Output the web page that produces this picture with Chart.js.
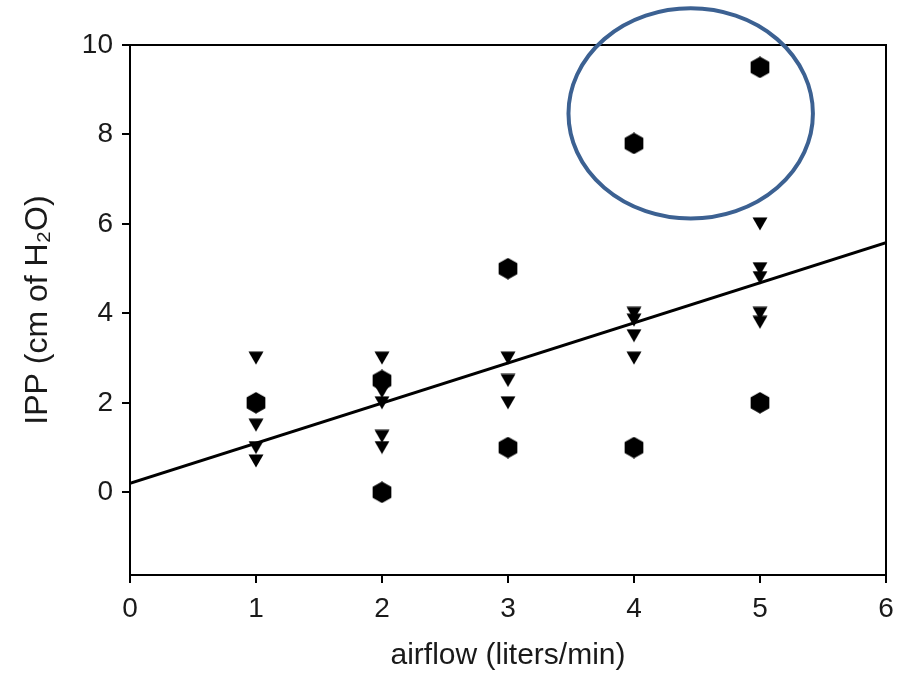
<!DOCTYPE html>
<html><head><meta charset="utf-8">
<script src="https://cdn.jsdelivr.net/npm/chart.js@4"></script>
<style>html,body{margin:0;padding:0;background:#fff}</style>
</head><body>
<canvas id="c" width="905" height="674"></canvas>
<script>
// ---- data ----
const hexX = [1, 2, 2, 3, 3, 4, 4, 5, 5];
const hexY = [2, 2.5, 0, 5, 1, 7.8, 1, 9.5, 2];
const triX = [1, 1, 1, 1, 2, 2, 2, 2, 2, 3, 3, 3, 4, 4, 4, 4, 5, 5, 5, 5, 5];
const triY = [3, 1.5, 1.0, 0.7, 3, 2.25, 2.0, 1.25, 1.0, 3, 2.5, 2.0, 4.0, 3.85, 3.5, 3.0, 6, 5, 4.8, 4.0, 3.8];
const fitX = [0, 6];
const fitY = [0.2, 5.58];
const xTicks = [0, 1, 2, 3, 4, 5, 6];
const yTicks = [0, 2, 4, 6, 8, 10];
const xTitle = 'airflow (liters/min)';
const yTitle = 'IPP (cm of H\u2082O)';
// highlighted region (data units): centre x, centre y, half-width, half-height
const circleX = [4.45];
const circleY = [8.47];
const circleRX = [0.97];
const circleRY = [2.35];

// ---- marker images ----
function hexImg() {
  const c = document.createElement('canvas'); c.width = 20; c.height = 22;
  const g = c.getContext('2d'); g.fillStyle = '#000'; g.beginPath();
  for (let k = 0; k < 6; k++) {
    const a = -Math.PI / 2 + k * Math.PI / 3;
    const px = 10 + 10.8 * Math.cos(a), py = 11 + 10.8 * Math.sin(a);
    k ? g.lineTo(px, py) : g.moveTo(px, py);
  }
  g.closePath(); g.fill(); return c;
}
function triImg() {
  const c = document.createElement('canvas'); c.width = 16; c.height = 14;
  const g = c.getContext('2d'); g.fillStyle = '#000'; g.beginPath();
  g.moveTo(0.5, 0.5); g.lineTo(15.5, 0.5); g.lineTo(8, 13.5); g.closePath(); g.fill(); return c;
}
const pts = (xs, ys) => xs.map((x, i) => ({x: x, y: ys[i]}));

const framePlugin = {
  id: 'frame',
  afterDatasetsDraw(chart) {
    const {ctx, chartArea: a} = chart;
    ctx.save();
    ctx.strokeStyle = '#000'; ctx.lineWidth = 2;
    ctx.strokeRect(a.left, a.top, a.right - a.left, a.bottom - a.top);
    ctx.restore();
  },
  afterDraw(chart) {
    const {ctx, scales: {x, y}} = chart;
    ctx.save();
    ctx.strokeStyle = '#3c6192'; ctx.lineWidth = 4;
    for (let i = 0; i < circleX.length; i++) {
      const cx = x.getPixelForValue(circleX[i]);
      const cy = y.getPixelForValue(circleY[i]);
      const rx = x.getPixelForValue(circleX[i] + circleRX[i]) - cx;
      const ry = cy - y.getPixelForValue(circleY[i] + circleRY[i]);
      ctx.beginPath(); ctx.ellipse(cx, cy, rx, ry, 0, 0, 2 * Math.PI); ctx.stroke();
    }
    ctx.restore();
  }
};

const FONT = "'Liberation Sans', Arial, Helvetica, sans-serif";
new Chart(document.getElementById('c'), {
  type: 'scatter',
  data: {
    datasets: [
      {label: 'fit', data: pts(fitX, fitY), showLine: true, borderColor: '#000', borderWidth: 3, pointRadius: 0, order: 3},
      {label: 'tri', data: pts(triX, triY), pointStyle: triImg(), order: 2},
      {label: 'hex', data: pts(hexX, hexY), pointStyle: hexImg(), order: 1}
    ]
  },
  options: {
    responsive: false, animation: false,
    layout: {padding: {top: 45, right: 19, bottom: 0, left: 0}},
    plugins: {legend: {display: false}, tooltip: {enabled: false}},
    scales: {
      x: {
        type: 'linear', min: 0, max: 6,
        afterBuildTicks: s => { s.ticks = xTicks.map(v => ({value: v})); },
        afterFit: s => { s.height = 99; },
        grid: {drawOnChartArea: false, drawTicks: true, tickLength: 8, color: '#000', lineWidth: 2},
        border: {display: true, color: '#000', width: 2},
        ticks: {color: '#1a1a1a', font: {family: FONT, size: 28}, padding: 9, maxRotation: 0},
        title: {display: true, text: xTitle, color: '#1a1a1a', font: {family: FONT, size: 30}, padding: {top: 0, bottom: 0}}
      },
      y: {
        type: 'linear', min: -1.85, max: 10,
        afterBuildTicks: s => { s.ticks = yTicks.map(v => ({value: v})); },
        afterFit: s => { s.width = 130; },
        grid: {drawOnChartArea: false, drawTicks: true, tickLength: 8, color: '#000', lineWidth: 2},
        border: {display: true, color: '#000', width: 2},
        ticks: {color: '#1a1a1a', font: {family: FONT, size: 28}, padding: 9},
        title: {display: true, text: yTitle, color: '#1a1a1a', font: {family: FONT, size: 32}, padding: {top: 19, bottom: 0}}
      }
    }
  },
  plugins: [framePlugin]
});
</script>
</body></html>
